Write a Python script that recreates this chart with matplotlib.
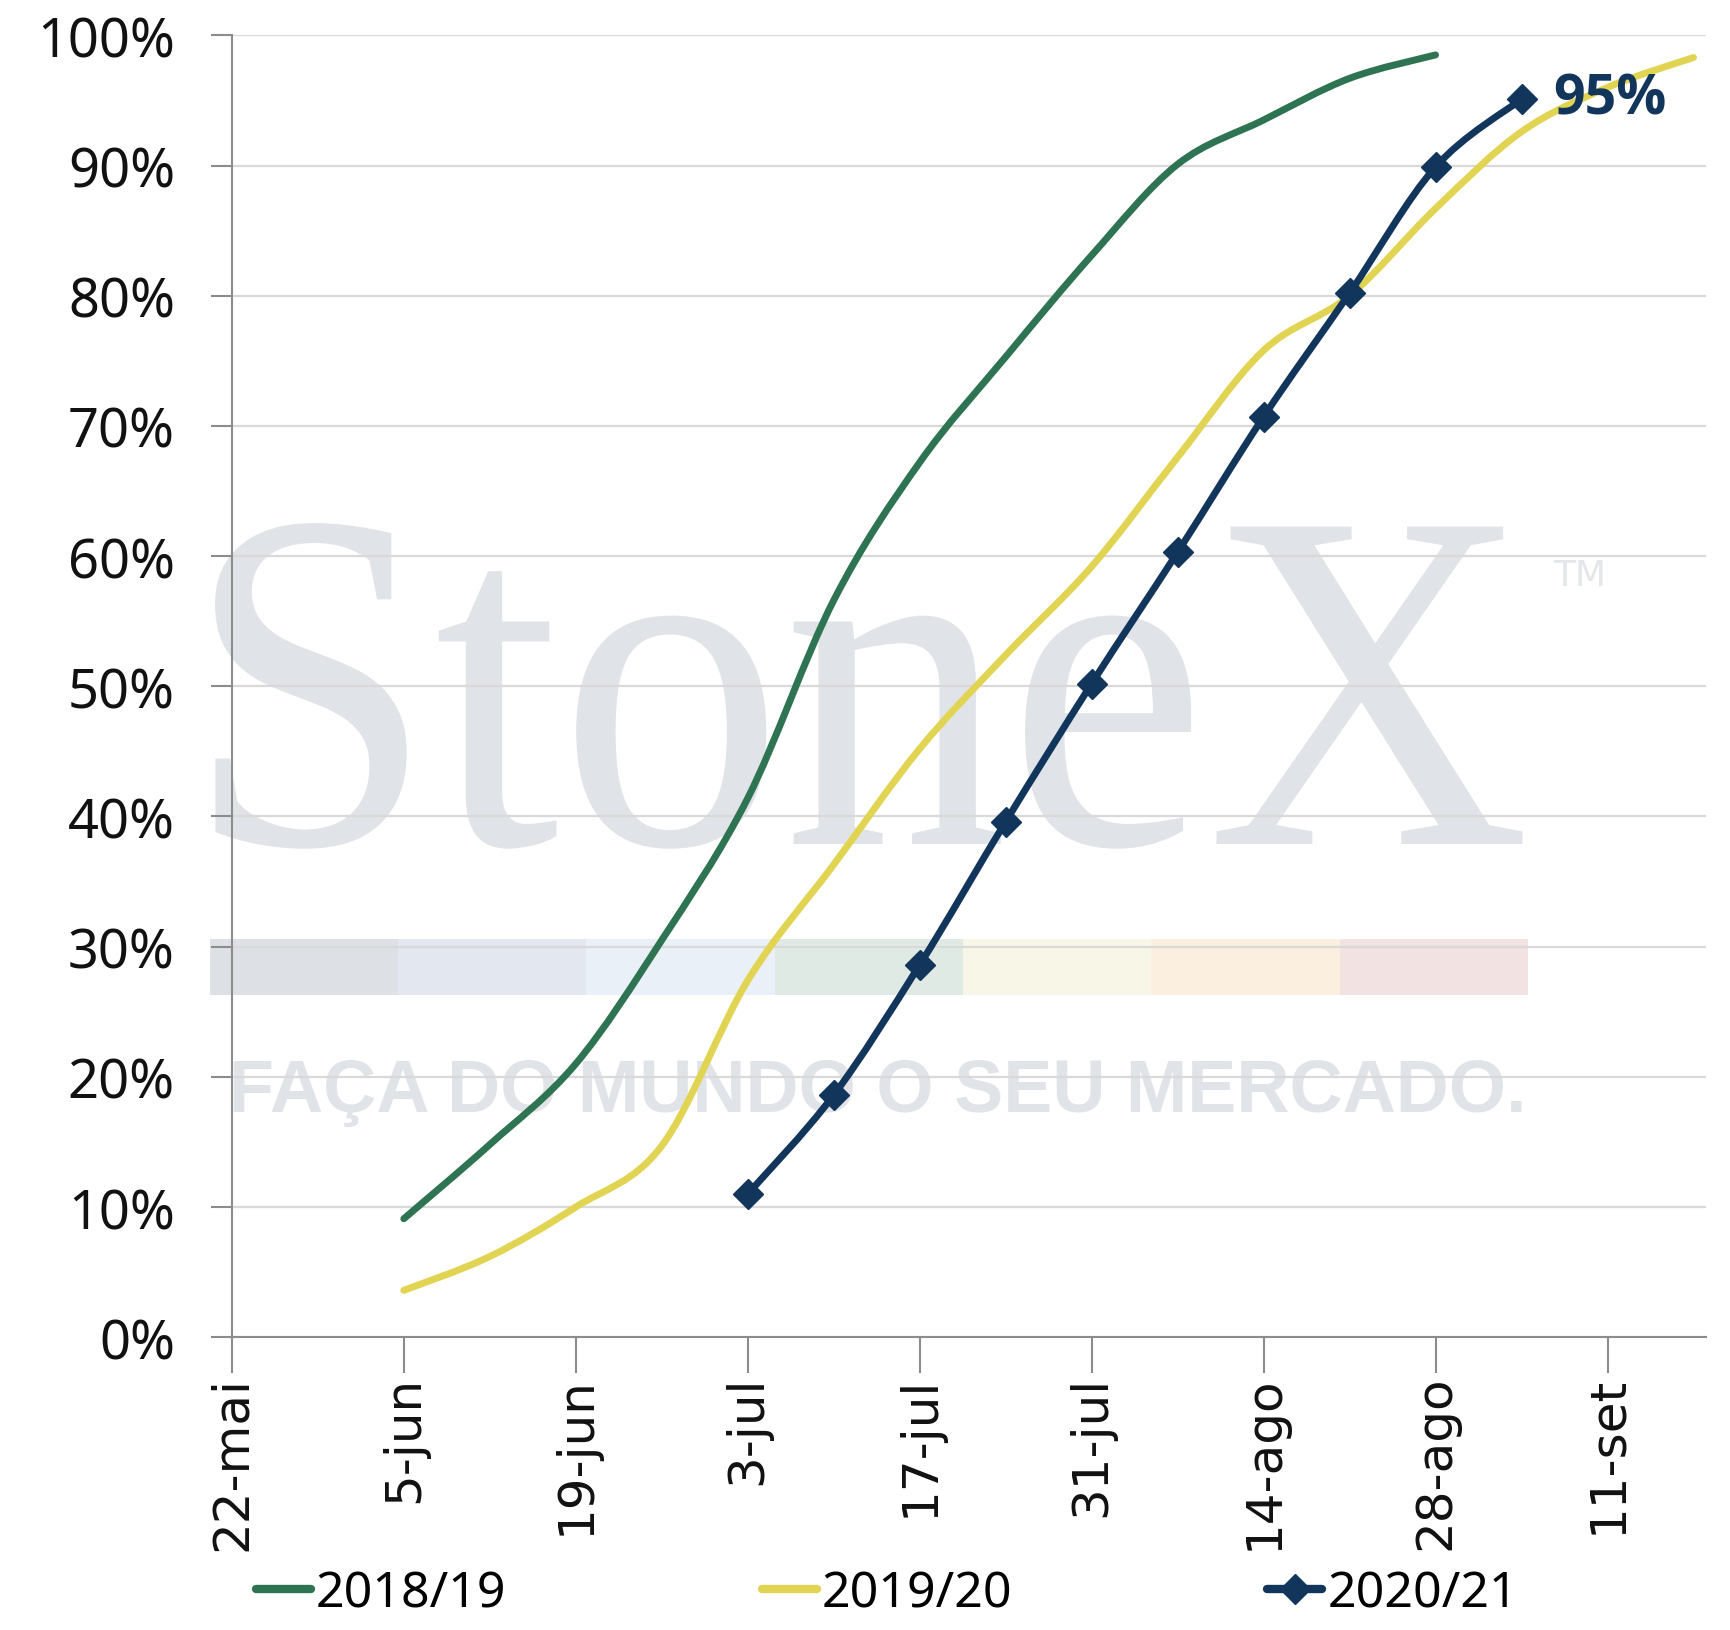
import matplotlib
matplotlib.use("Agg")
import matplotlib.pyplot as plt
import matplotlib.dates as mdates
from matplotlib.path import Path
from matplotlib.patches import PathPatch, Rectangle
from matplotlib.lines import Line2D
from matplotlib.textpath import TextPath
from matplotlib.font_manager import FontProperties
from matplotlib.transforms import Affine2D
import numpy as np
import pandas as pd

# colheita - % colhido acumulado
datas_1819 = ["2020-06-05", "2020-06-12", "2020-06-19", "2020-06-26", "2020-07-03",
              "2020-07-10", "2020-07-17", "2020-07-24", "2020-07-31", "2020-08-07",
              "2020-08-14", "2020-08-21", "2020-08-28"]
safra_1819 = [9.1, 14.8, 21.0, 30.5, 41.4, 56.6, 67.2, 75.3, 83.1, 90.1, 93.5, 96.7, 98.5]

datas_1920 = ["2020-06-05", "2020-06-12", "2020-06-19", "2020-06-26", "2020-07-03",
              "2020-07-10", "2020-07-17", "2020-07-24", "2020-07-31", "2020-08-07",
              "2020-08-14", "2020-08-21", "2020-08-28", "2020-09-04", "2020-09-11",
              "2020-09-18"]
safra_1920 = [3.6, 6.2, 10.0, 14.7, 27.4, 36.3, 45.2, 52.4, 59.2, 67.6, 75.8, 80.0,
              86.7, 92.6, 96.0, 98.3]

datas_2021 = ["2020-07-03", "2020-07-10", "2020-07-17", "2020-07-24", "2020-07-31",
              "2020-08-07", "2020-08-14", "2020-08-21", "2020-08-28", "2020-09-04"]
safra_2021 = [11.0, 18.6, 28.6, 39.6, 50.2, 60.3, 70.7, 80.2, 89.9, 95.1]

ticks_x = ["2020-05-22", "2020-06-05", "2020-06-19", "2020-07-03", "2020-07-17",
           "2020-07-31", "2020-08-14", "2020-08-28", "2020-09-11"]
labels_x = ["22-mai", "5-jun", "19-jun", "3-jul", "17-jul", "31-jul", "14-ago",
            "28-ago", "11-set"]
rotulo_final = "95%"

verde = "#2E7352"
amarelo = "#E0D452"
azul = "#12355B"
cinza = "#8C8C8C"


def to_num(d):
    return mdates.date2num(pd.to_datetime(d))


def curva(ax, xs, ys, cor):
    # suavizacao tipo excel (catmull-rom em bezier)
    n = len(xs)
    verts = [(xs[0], ys[0])]
    codes = [Path.MOVETO]
    for i in range(n - 1):
        a = i - 1 if i > 0 else i
        b = i + 2 if i + 2 < n else i + 1
        c1 = (xs[i] + (xs[i + 1] - xs[a]) / 6, ys[i] + (ys[i + 1] - ys[a]) / 6)
        c2 = (xs[i + 1] - (xs[b] - xs[i]) / 6, ys[i + 1] - (ys[b] - ys[i]) / 6)
        verts += [c1, c2, (xs[i + 1], ys[i + 1])]
        codes += [Path.CURVE4] * 3
    p = PathPatch(Path(verts, codes), fill=False, edgecolor=cor, lw=5,
                  capstyle="round", joinstyle="round", zorder=3)
    ax.add_patch(p)


fig = plt.figure(figsize=(17.30, 16.31), dpi=100)
ax = fig.add_axes([0.134, 0.1795, 0.852, 0.7982])
ax.set_facecolor("none")

# marca d'agua (logo esticado na caixa do original)
tp = TextPath((0, 0), "StoneX", size=1, prop=FontProperties(family="Liberation Serif"))
bb = tp.get_extents()
x0, x1_, y0, y1_ = 0.1243, 0.8800, 0.4790, 0.6787
tr = (Affine2D().translate(-bb.x0, -bb.y0)
      .scale((x1_ - x0) / bb.width, (y1_ - y0) / bb.height)
      .translate(x0, y0) + fig.transFigure)
ax.add_patch(PathPatch(tp, facecolor="#E0E3E8", edgecolor="none", transform=tr,
                       zorder=0, clip_on=False))
ax.text(0.898, 0.641, "TM", transform=fig.transFigure, fontsize=26,
        family="DejaVu Sans", color="#E3E6EA", zorder=0, clip_on=False,
        ha="left", va="baseline")
faixa = ["#DDE0E5", "#E3E8F0", "#EAF0F8", "#E0EAE5", "#F8F6E6", "#FBF0E0", "#F3E2E2"]
w = (0.8833 - 0.1212) / len(faixa)
for i, c in enumerate(faixa):
    ax.add_patch(Rectangle((0.1212 + i * w, 0.3891), w, 0.0346, transform=fig.transFigure,
                           facecolor=c, edgecolor="none", zorder=0, clip_on=False))
ax.text(0.1325, 0.318, "FAÇA DO MUNDO O SEU MERCADO.", transform=fig.transFigure,
        fontsize=53, family="Liberation Sans", weight="bold", color="#E0E3E8",
        zorder=0, clip_on=False, ha="left", va="baseline")

x1 = [to_num(d) for d in datas_1819]
x2 = [to_num(d) for d in datas_1920]
x3 = [to_num(d) for d in datas_2021]

curva(ax, x1, safra_1819, verde)
curva(ax, x2, safra_1920, amarelo)
curva(ax, x3, safra_2021, azul)
ax.plot(x3, safra_2021, ls="none", marker="D", ms=15, color=azul, zorder=4)

ax.text(x3[-1] + 2.6, safra_2021[-1], rotulo_final, fontsize=40, weight="bold",
        family="Open Sans", color=azul, ha="left", va="center", zorder=5)

ax.set_xlim(to_num("2020-05-22"), to_num("2020-09-19"))
ax.set_ylim(0, 100)
ax.set_yticks(np.arange(0, 101, 10))
ax.set_yticklabels([f"{v}%" for v in range(0, 101, 10)], family="Noto Sans", fontsize=39,
                   color="#111111")
ax.set_xticks([to_num(d) for d in ticks_x])
ax.set_xticklabels(labels_x, rotation=90, fontsize=36, family="DejaVu Sans",
                   va="top", ha="center", color="#111111")

ax.set_axisbelow(True)
ax.grid(axis="y", color="#D9D9D9", lw=1.6, zorder=0.5)
for s in ["top", "right"]:
    ax.spines[s].set_visible(False)
for s in ["left", "bottom"]:
    ax.spines[s].set_color(cinza)
    ax.spines[s].set_linewidth(1.5)
ax.tick_params(axis="y", length=15, width=1.5, color=cinza, pad=26)
ax.tick_params(axis="x", length=26, width=1.5, color=cinza, pad=1)

handles = [Line2D([], [], color=verde, lw=6, solid_capstyle="round"),
           Line2D([], [], color=amarelo, lw=6, solid_capstyle="round"),
           Line2D([], [], color=azul, lw=6, marker="D", ms=15, solid_capstyle="round")]
fig.legend(handles, ["2018/19", "2019/20", "2020/21"], loc="upper left",
           bbox_to_anchor=(0.148, 0.038), ncol=3, frameon=False,
           prop={"family": "Noto Sans", "size": 36},
           handlelength=1.1, handletextpad=0.1, columnspacing=5.1, borderpad=0,
           borderaxespad=0)

fig.savefig("out.png", dpi=100)
